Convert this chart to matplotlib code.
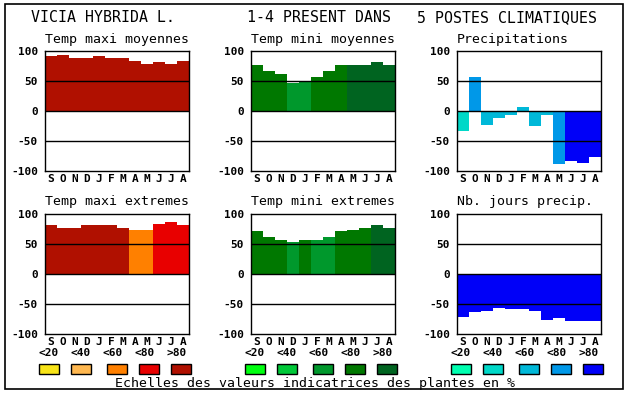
import matplotlib
matplotlib.use("Agg")
import matplotlib.pyplot as plt
from matplotlib.patches import Rectangle

W, H = 630, 394

months = ["S", "O", "N", "D", "J", "F", "M", "A", "M", "J", "J", "A"]
class_labels = ["<20", "<40", "<60", "<80", ">80"]

red_scale = ["#F8E418", "#FFB850", "#FF8000", "#E80000", "#B01000"]
green_scale = ["#00FF10", "#00C838", "#00982C", "#007800", "#006420"]
blue_scale = ["#00FFB0", "#00D8C8", "#00B8D8", "#0098E8", "#0000F8"]

titles = ["VICIA HYBRIDA L.", "1-4 PRESENT DANS", "5 POSTES CLIMATIQUES"]
footer = "Echelles des valeurs indicatrices des plantes en %"

# panel values (bar heights) and colour class (0..4 -> <20 .. >80)
tmax_moy = [91, 93, 88, 88, 91, 88, 88, 84, 78, 81, 78, 83]
tmax_moy_cls = [4, 4, 4, 4, 4, 4, 4, 4, 4, 4, 4, 4]

tmin_moy = [76, 67, 61, 47, 49, 56, 66, 76, 77, 77, 81, 77]
tmin_moy_cls = [3, 3, 3, 2, 2, 3, 3, 3, 4, 4, 4, 4]

precip = [-34, 56, -23, -11, -6, 7, -25, -6, -88, -84, -86, -77]
precip_cls = [1, 3, 2, 2, 2, 2, 2, 2, 3, 4, 4, 4]

tmax_ext = [82, 76, 76, 81, 81, 81, 77, 74, 74, 84, 86, 82]
tmax_ext_cls = [4, 4, 4, 4, 4, 4, 4, 2, 2, 3, 3, 3]

tmin_ext = [71, 62, 57, 54, 56, 57, 62, 71, 74, 77, 81, 76]
tmin_ext_cls = [3, 3, 3, 2, 3, 2, 2, 3, 3, 3, 4, 4]

jours_precip = [-71, -63, -61, -56, -58, -58, -61, -76, -73, -78, -78, -78]
jours_precip_cls = [4, 4, 4, 4, 4, 4, 4, 4, 4, 4, 4, 4]

panels = [
    ("Temp maxi moyennes", tmax_moy, tmax_moy_cls, red_scale, 45, 51),
    ("Temp mini moyennes", tmin_moy, tmin_moy_cls, green_scale, 251, 51),
    ("Precipitations", precip, precip_cls, blue_scale, 457, 51),
    ("Temp maxi extremes", tmax_ext, tmax_ext_cls, red_scale, 45, 214),
    ("Temp mini extremes", tmin_ext, tmin_ext_cls, green_scale, 251, 214),
    ("Nb. jours precip.", jours_precip, jours_precip_cls, blue_scale, 457, 214),
]

MONO = "DejaVu Sans Mono"


def fx(x):
    return x / W


def fy(y):
    return 1 - y / H


fig = plt.figure(figsize=(W / 100, H / 100), dpi=100)
fig.patch.set_facecolor("white")

# outer frame
fig.add_artist(Rectangle((fx(5), fy(389)), fx(623) - fx(5), fy(4) - fy(389),
                         transform=fig.transFigure, fill=False, ec="black", lw=1.2))

for t, x in zip(titles, [31, 247, 417]):
    fig.text(fx(x), fy(18), t, family=MONO, fontsize=10.7, ha="left", va="center")

for name, vals, cls, scale, left, top in panels:
    ax = fig.add_axes([fx(left), fy(top + 120), 144 / W, 120 / H])
    ax.bar(range(12), vals, width=1.0, color=[scale[c] for c in cls], zorder=2)
    for yv in (50, 0, -50):
        ax.axhline(yv, color="black", lw=1.0, zorder=3)
    ax.set_xlim(-0.5, 11.5)
    ax.set_ylim(-100, 100)
    ax.set_yticks([100, 50, 0, -50, -100])
    ax.set_yticklabels(["100", "50", "0", "-50", "-100"], family=MONO,
                       fontweight="bold", fontsize=8)
    ax.set_xticks(range(12))
    ax.set_xticklabels(months, family=MONO, fontweight="bold", fontsize=8)
    ax.tick_params(length=0)
    ax.tick_params(axis="y", pad=5)
    ax.tick_params(axis="x", pad=2)
    for s in ax.spines.values():
        s.set_linewidth(1.0)
    fig.text(fx(left), fy(top - 12), name, family=MONO, fontsize=9.5,
             ha="left", va="center")

# colour scales under the bottom row
for scale, left in [(red_scale, 45), (green_scale, 251), (blue_scale, 457)]:
    for i, (lab, col) in enumerate(zip(class_labels, scale)):
        fig.text(fx(left + 4 + 32 * i), fy(353), lab, family=MONO,
                 fontweight="bold", fontsize=8, ha="center", va="center")
        bx = left + 4 + 32 * i + (4 if i >= 2 else 0) - 10
        fig.add_artist(Rectangle((fx(bx), fy(374)), 20 / W, 10 / H,
                                 transform=fig.transFigure, fc=col, ec="black", lw=1))

fig.text(fx(115), fy(383), footer, family=MONO, fontsize=9.5, ha="left", va="center")

fig.savefig("out.png", dpi=100)
